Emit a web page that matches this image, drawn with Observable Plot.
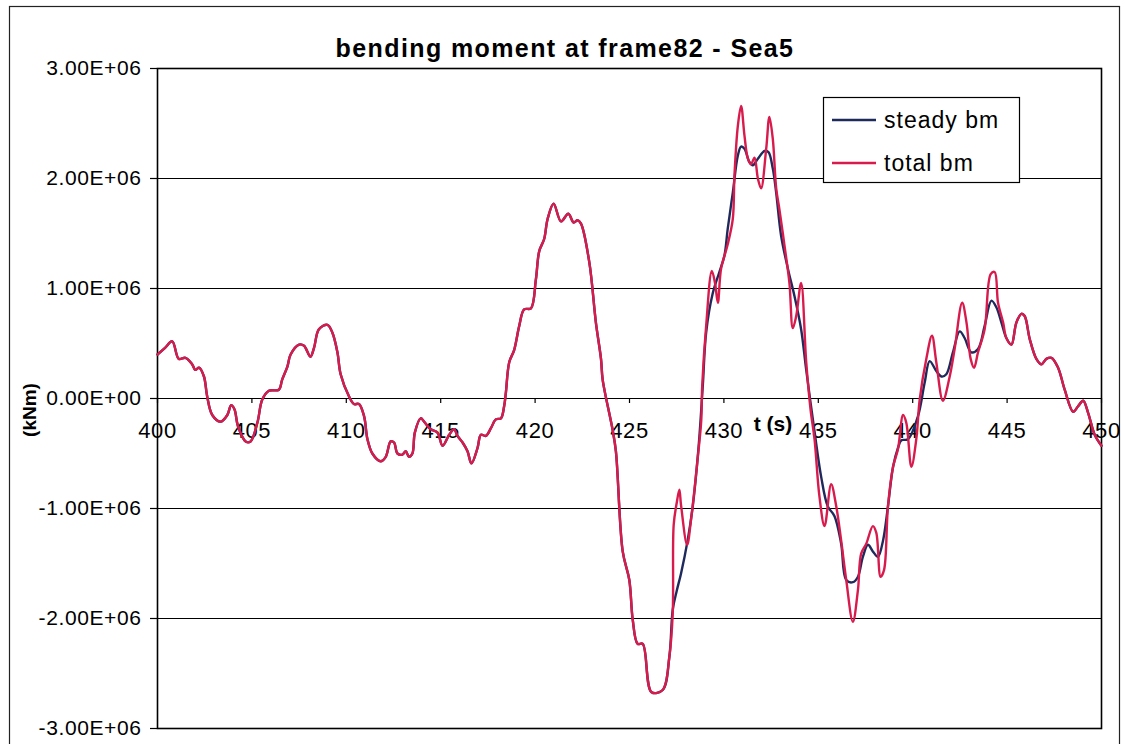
<!DOCTYPE html>
<html><head><meta charset="utf-8">
<script src="https://cdn.jsdelivr.net/npm/d3@7"></script>
<script src="https://cdn.jsdelivr.net/npm/@observablehq/plot@0.6"></script>
<style>
html,body{margin:0;padding:0;background:#fff;}
#chart{width:1126px;height:744px;overflow:hidden;}
</style></head><body><div id="chart"></div>
<script>
// values in 10^6 kNm, time in s
// part where steady bm and total bm coincide (400 -> 427.1 s)
const headT = [400.0,400.4,400.78,401.13,401.48,401.84,402.0,402.2,402.46,402.63,402.9,403.34,403.7,403.9,404.08,404.26,404.67,404.93,405.29,405.55,405.9,406.43,406.6,406.88,407.05,407.5,407.76,408.1,408.29,408.55,409.0,409.26,409.53,409.7,410.14,410.4,410.67,410.94,411.12,411.38,411.82,412.09,412.35,412.53,412.71,412.97,413.15,413.32,413.5,413.63,413.94,414.12,414.47,414.83,415.1,415.45,415.71,415.89,416.16,416.42,416.63,416.95,417.13,417.39,417.66,417.92,418.19,418.36,418.45,418.63,418.89,419.16,419.42,419.78,420.04,420.22,420.48,420.66,420.98,421.37,421.76,422.04,422.25,422.43,422.87,423.22,423.49,423.58,424.1,424.28,424.64,424.99,425.17,425.43,425.7,426.17,426.76,427.11];
const headV = [0.40,0.46,0.52,0.36,0.37,0.31,0.26,0.28,0.20,0.02,-0.15,-0.21,-0.15,-0.06,-0.10,-0.25,-0.39,-0.39,-0.22,-0.01,0.07,0.08,0.17,0.29,0.40,0.49,0.48,0.38,0.46,0.63,0.67,0.60,0.42,0.22,0.02,-0.05,-0.05,-0.16,-0.37,-0.50,-0.57,-0.53,-0.39,-0.40,-0.50,-0.51,-0.48,-0.53,-0.50,-0.31,-0.18,-0.21,-0.28,-0.31,-0.43,-0.33,-0.28,-0.34,-0.40,-0.48,-0.59,-0.45,-0.33,-0.34,-0.27,-0.19,-0.18,-0.07,0.05,0.33,0.44,0.66,0.81,0.82,1.08,1.34,1.45,1.63,1.77,1.61,1.68,1.60,1.62,1.59,1.24,0.69,0.36,0.17,-0.28,-0.48,-1.39,-1.65,-2.01,-2.23,-2.23,-2.67,-2.65,-2.35];

// total bm where it departs from steady bm
const totalMidT = [427.29,427.34,427.5,427.64,427.73,428.05,428.26,428.62,428.8,428.85,429.06,429.36,429.53,429.68,429.85,430.2,430.47,430.56,430.74,430.91,431.09,431.27,431.44,431.62,431.8,431.97,432.24,432.41,432.59,432.77,432.94,433.21,433.47,433.65,433.83,434.09,434.36,434.59,434.8,435.06,435.33,435.68,435.95,436.21,436.48,436.83,437.1,437.27,437.54,437.89,438.07,438.3,438.48,438.69,438.96,439.22,439.49,439.66,439.93,440.19,440.37,440.72,441.02,441.25,441.6,441.96,442.22,442.62,442.85,443.07,443.25,443.46,443.81,444.13,444.34,444.52,444.79,444.96];
const totalMidV = [-1.95,-1.15,-0.95,-0.83,-0.97,-1.33,-1.10,-0.53,-0.20,0.11,0.66,1.16,1.05,0.87,1.18,1.40,1.63,2.03,2.48,2.66,2.39,2.18,2.13,2.19,2.00,1.91,2.27,2.56,2.36,1.91,1.72,1.39,1.05,0.64,0.75,1.05,0.33,-0.10,-0.37,-0.89,-1.16,-0.78,-0.98,-1.29,-1.65,-2.03,-1.74,-1.41,-1.32,-1.16,-1.22,-1.62,-1.56,-0.98,-0.62,-0.46,-0.15,-0.22,-0.62,-0.37,-0.01,0.36,0.57,0.33,-0.02,0.20,0.45,0.87,0.69,0.36,0.28,0.42,0.63,1.13,1.15,0.87,0.69,0.55];

// steady bm where it departs from total bm
const steadyMidT = [427.29,427.5,427.73,428.08,428.35,428.65,428.88,429.06,429.4,429.76,430.03,430.2,430.47,430.74,430.91,431.09,431.35,431.53,431.8,432.15,432.36,432.59,432.77,433.03,433.39,433.74,434.09,434.36,434.8,435.15,435.5,435.86,436.21,436.48,436.83,437.1,437.36,437.63,437.89,438.16,438.43,438.69,438.96,439.22,439.4,439.75,440.28,440.63,440.9,441.25,441.52,441.78,442.13,442.49,442.75,443.1,443.46,443.81,444.17,444.43,444.7,444.96];
const steadyMidV = [-1.92,-1.75,-1.59,-1.29,-0.98,-0.46,0.11,0.60,0.95,1.15,1.30,1.54,1.87,2.21,2.29,2.27,2.15,2.12,2.18,2.25,2.24,2.09,1.87,1.48,1.18,0.93,0.63,0.26,-0.30,-0.71,-0.98,-1.07,-1.32,-1.65,-1.67,-1.62,-1.44,-1.33,-1.39,-1.44,-1.29,-0.98,-0.62,-0.45,-0.38,-0.37,-0.16,0.14,0.34,0.25,0.20,0.22,0.42,0.61,0.55,0.42,0.45,0.66,0.89,0.83,0.69,0.55];

// part where both coincide again (445.2 -> 450 s)
const tailT = [445.23,445.49,445.76,445.93,446.2,446.55,446.82,447.08,447.35,447.7,448.05,448.5,448.76,449.03,449.29,449.64,450.0];
const tailV = [0.49,0.69,0.77,0.75,0.54,0.36,0.31,0.36,0.37,0.28,0.08,-0.12,-0.07,-0.02,-0.13,-0.33,-0.43];

const xTicks = [400,405,410,415,420,425,430,435,440,445,450];
const xTickLabels = ["400","405","410","415","420","425","430","435","440","445","450"];
const yTicks = [3,2,1,0,-1,-2,-3];
const yTickLabels = ["3.00E+06","2.00E+06","1.00E+06","0.00E+00","-1.00E+06","-2.00E+06","-3.00E+06"];
const seriesNames = ["steady bm","total bm"];
const seriesColors = ["#1f2a5c","#d81b4d"];
const titleText = "bending moment at frame82 - Sea5";
const xLabel = "t (s)";
const yLabel = "(kNm)";

function rows(ts, vs) { return ts.map((t, i) => ({t, v: vs[i]})); }
const steady = [...rows(headT, headV), ...rows(steadyMidT, steadyMidV), ...rows(tailT, tailV)];
const total = [...rows(headT, headV), ...rows(totalMidT, totalMidV), ...rows(tailT, tailV)];

const fontFamily = "'Liberation Sans', Arial, Helvetica, sans-serif";

const svg = Plot.plot({
  width: 1126, height: 744,
  marginLeft: 157, marginRight: 25, marginTop: 68, marginBottom: 16,
  style: {fontFamily, background: "#fff", color: "#000"},
  x: {domain: [400, 450], axis: null},
  y: {domain: [-3, 3], axis: null},
  marks: [
    Plot.ruleY(yTicks, {stroke: "#000", strokeWidth: 1}),
    Plot.frame({stroke: "#000", strokeWidth: 1.6}),
    Plot.ruleY(yTicks, {x1: 400, x2: 400, insetLeft: -7, stroke: "#000", strokeWidth: 1.2}),
    Plot.text(yTicks, {x: 400, y: d => d, text: (d, i) => yTickLabels[i], textAnchor: "end", dx: -16, fontSize: 21, fill: "#000"}),
    Plot.ruleX(xTicks, {y1: 0, y2: 0, insetBottom: -5, stroke: "#000", strokeWidth: 1.2}),
    Plot.text(xTicks, {x: d => d, y: 0, text: (d, i) => xTickLabels[i], dy: 32, fontSize: 22, fill: "#000"}),
    Plot.line(steady, {x: "t", y: "v", stroke: seriesColors[0], strokeWidth: 2.4, curve: "catmull-rom"}),
    Plot.line(total, {x: "t", y: "v", stroke: seriesColors[1], strokeWidth: 2.4, curve: "catmull-rom"})
  ]
});

const s = d3.select(svg);
s.selectAll("text").attr("letter-spacing", "0.6");
s.insert("rect", ":first-child").attr("x", 9.5).attr("y", 6.5).attr("width", 1110).attr("height", 800)
  .attr("fill", "none").attr("stroke", "#222").attr("stroke-width", 1.2);
s.append("text").attr("x", 565).attr("y", 57).attr("text-anchor", "middle")
  .attr("font-family", fontFamily).attr("font-weight", "bold").attr("font-size", 25)
  .attr("letter-spacing", "1.4").attr("fill", "#000").text(titleText);
s.append("text").attr("transform", "translate(36,410) rotate(-90)").attr("text-anchor", "middle")
  .attr("font-family", fontFamily).attr("font-weight", "bold").attr("font-size", 19)
  .attr("fill", "#000").text(yLabel);
s.append("text").attr("x", 773).attr("y", 431).attr("text-anchor", "middle")
  .attr("font-family", fontFamily).attr("font-weight", "bold").attr("font-size", 21)
  .attr("fill", "#000").text(xLabel);
const lg = s.append("g");
lg.append("rect").attr("x", 823.5).attr("y", 97.5).attr("width", 196).attr("height", 85)
  .attr("fill", "#fff").attr("stroke", "#000").attr("stroke-width", 1.2);
seriesNames.forEach((name, i) => {
  const cy = 120 + i * 43;
  lg.append("line").attr("x1", 832).attr("x2", 876).attr("y1", cy).attr("y2", cy)
    .attr("stroke", seriesColors[i]).attr("stroke-width", 2.5);
  lg.append("text").attr("x", 884).attr("y", cy + 8).attr("text-anchor", "start")
    .attr("font-family", fontFamily).attr("font-size", 23).attr("letter-spacing", "1")
    .attr("fill", "#000").text(name);
});
document.getElementById("chart").appendChild(svg);
</script></body></html>
